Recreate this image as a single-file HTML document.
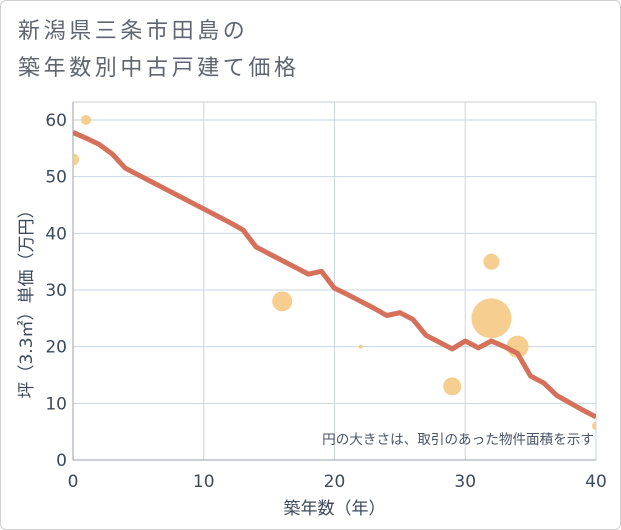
<!DOCTYPE html>
<html><head><meta charset="utf-8"><style>
body{margin:0;background:#fff;}
.wrap{position:relative;width:621px;height:530px;overflow:hidden;}
.frame{position:absolute;left:0;top:0;width:619px;height:528px;border:1px solid #d0d0d0;border-radius:6px;}
.title{position:absolute;left:18px;top:13px;font:22px "DejaVu Sans","Noto Sans CJK JP",sans-serif;color:#5f6670;line-height:37px;letter-spacing:3.6px;}
svg text{font-family:"DejaVu Sans","Noto Sans CJK JP",sans-serif;}
</style></head><body>
<div class="wrap">
<div class="frame"></div>
<div class="title">新潟県三条市田島の<br>築年数別中古戸建て価格</div>
<svg id="chart" width="621" height="530" style="position:absolute;left:0;top:0"><defs><clipPath id="pc"><rect x="73" y="102" width="523" height="358"/></clipPath></defs></svg>
</div>
<script>
const xTicks=[0,10,20,30,40];
const yTicks=[0,10,20,30,40,50,60];
const lineYears=[0,1,2,3,4,5,6,7,8,9,10,11,12,13,14,15,16,17,18,19,20,21,22,23,24,25,26,27,28,29,30,31,32,33,34,35,36,37,38,39,40];
const linePrices=[57.8,56.8,55.7,54,51.5,50.3,49.1,47.9,46.7,45.5,44.3,43.1,41.9,40.6,37.6,36.4,35.2,34,32.8,33.3,30.3,29.2,28,26.8,25.5,26,24.8,22,20.8,19.6,21,19.8,21,20,18.8,14.8,13.6,11.4,10.1,8.8,7.6];
const bubbleYears=[0,1,16,22,29,32,32,34,40];
const bubblePrices=[53,60,28,20,13,35,25,20,6];
const bubbleSizes=[6,5,10,2,9,8,20,11,4];
const NS='http://www.w3.org/2000/svg';
const svg=document.getElementById('chart');
const L=73,R=596,T=102,B=460;
const xs=v=>L+(R-L)*v/40;
const ys=v=>B-(B-120)*v/60;
function mk(tag,attrs,parent){const e=document.createElementNS(NS,tag);for(const k in attrs)e.setAttribute(k,attrs[k]);(parent||svg).appendChild(e);return e;}
const bg=mk('rect',{x:L,y:T,width:R-L,height:B-T,fill:'#fff',stroke:'#c8ccd2','stroke-width':1});


xTicks.forEach(t=>{
  const g=mk('line',{x1:xs(t),x2:xs(t),y1:T,y2:B,stroke:'#c9d6e3','stroke-width':1});
  
  
  const tx=mk('text',{x:xs(t),y:B+27,'text-anchor':'middle','font-size':17,fill:'#3d4a5c'});
  tx.textContent=t;
  
  
});
yTicks.forEach(t=>{
  const g=mk('line',{x1:L,x2:R,y1:ys(t),y2:ys(t),stroke:'#c9d6e3','stroke-width':1});
  
  
  const tx=mk('text',{x:L-6,y:ys(t)+6,'text-anchor':'end','font-size':17,fill:'#3d4a5c'});
  tx.textContent=t;
  
  
});
const ax=mk('line',{x1:L,x2:L,y1:T,y2:B,stroke:'#9aa0a8','stroke-width':1});


const ax2=mk('line',{x1:L,x2:R,y1:B,y2:B,stroke:'#9aa0a8','stroke-width':1});


const grp=mk('g',{'clip-path':'url(#pc)'});


bubbleYears.forEach((yr,i)=>{
  const c=mk('circle',{cx:xs(yr),cy:ys(bubblePrices[i]),r:bubbleSizes[i],fill:'#f5c983','fill-opacity':0.9},grp);
  
  
});
const pts=lineYears.map((y,i)=>xs(y)+','+ys(linePrices[i])).join(' ');
const pl=mk('polyline',{points:pts,fill:'none',stroke:'#d5705a','stroke-width':5,'stroke-linejoin':'round'},grp);


const note=mk('text',{x:594,y:444,'text-anchor':'end','font-size':13.6,fill:'#4a5566'});
note.textContent='円の大きさは、取引のあった物件面積を示す';


const xt=mk('text',{x:(L+R)/2,y:514,'text-anchor':'middle','font-size':17,fill:'#3d4a5c'});
xt.textContent='築年数（年）';


const yt=mk('text',{x:0,y:0,'text-anchor':'middle','font-size':17,fill:'#3d4a5c',transform:'translate(32,300) rotate(-90)'});
yt.textContent='坪（3.3㎡）単価（万円）';


</script>
</body></html>
